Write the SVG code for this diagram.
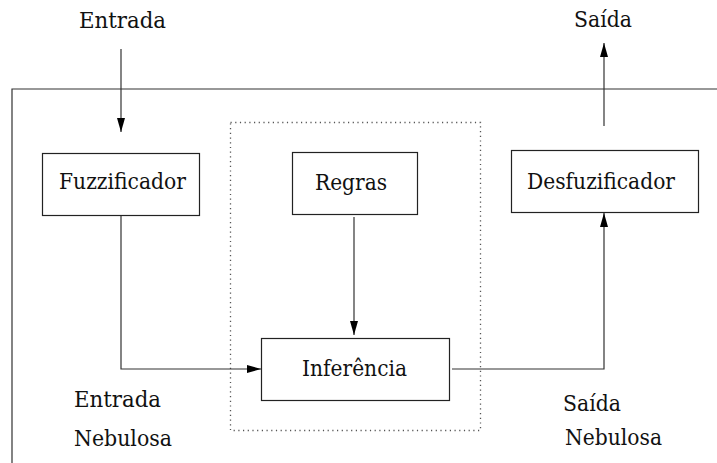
<svg xmlns="http://www.w3.org/2000/svg" width="717" height="463" viewBox="0 0 717 463">
<style>
.box{fill:#fff;stroke:#222;stroke-width:1.2}
.ln{fill:none;stroke:#333;stroke-width:1.2}
text{font-family:'DejaVu Serif','Liberation Serif',serif;font-size:22px;fill:#111}
</style>
<defs>
<marker id="ah" viewBox="0 0 14 8" refX="14" refY="4" markerWidth="14" markerHeight="8" markerUnits="userSpaceOnUse" orient="auto">
<path d="M0,0 L14,4 L0,8 z" fill="#000"/>
</marker>
</defs>
<rect width="717" height="463" fill="#fff"/>
<path class="ln" d="M12,463 V89 H717"/>
<rect x="230.5" y="122.5" width="250" height="308" fill="none" stroke="#555" stroke-width="1.3" stroke-dasharray="1.2,3.5"/>
<g id="connectors">
<path class="ln" d="M121,49 V132" marker-end="url(#ah)"/>
<path class="ln" d="M121,215 V369 H261" marker-end="url(#ah)"/>
<path class="ln" d="M354,217 V335" marker-end="url(#ah)"/>
<path class="ln" d="M452,369 H604 V213" marker-end="url(#ah)"/>
<path class="ln" d="M604,126 V43" marker-end="url(#ah)"/>
</g>
<g id="entrada"><text x="79" y="28" textLength="87" lengthAdjust="spacingAndGlyphs">Entrada</text></g>
<g id="saida"><text x="574" y="27" textLength="58" lengthAdjust="spacingAndGlyphs">Saída</text></g>
<g id="fuzzificador"><rect class="box" x="42.5" y="153.5" width="157" height="62"/><text x="59" y="189" textLength="127" lengthAdjust="spacingAndGlyphs">Fuzzificador</text></g>
<g id="regras"><rect class="box" x="292.5" y="152.5" width="125" height="62"/><text x="315" y="190" textLength="72" lengthAdjust="spacingAndGlyphs">Regras</text></g>
<g id="desfuzificador"><rect class="box" x="511.5" y="150.5" width="187" height="62"/><text x="527" y="189" textLength="148" lengthAdjust="spacingAndGlyphs">Desfuzificador</text></g>
<g id="inferencia"><rect class="box" x="261.5" y="338.5" width="188" height="62"/><text x="302" y="376" textLength="105" lengthAdjust="spacingAndGlyphs">Inferência</text></g>
<g id="entrada-nebulosa"><text x="74" y="407" textLength="87" lengthAdjust="spacingAndGlyphs">Entrada</text><text x="74" y="446" textLength="98" lengthAdjust="spacingAndGlyphs">Nebulosa</text></g>
<g id="saida-nebulosa"><text x="563" y="411" textLength="58" lengthAdjust="spacingAndGlyphs">Saída</text><text x="565" y="445" textLength="97" lengthAdjust="spacingAndGlyphs">Nebulosa</text></g>
</svg>
